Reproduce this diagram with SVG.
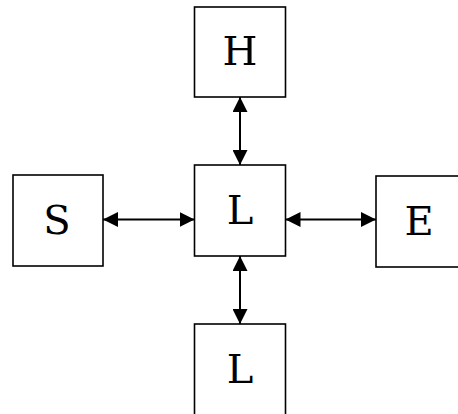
<svg xmlns="http://www.w3.org/2000/svg" width="458" height="414" viewBox="0 0 458 414">
<style>
.box{fill:#fff;stroke:#000;stroke-width:1.6}
.lbl{font-family:"DejaVu Serif","Liberation Serif",serif;font-size:40px;fill:#000;text-anchor:middle}
.edge{stroke:#000;stroke-width:2;fill:none;marker-start:url(#ah);marker-end:url(#ah)}
</style>
<defs>
<marker id="ah" viewBox="0 0 10 10" refX="10" refY="5" markerWidth="15" markerHeight="15" markerUnits="userSpaceOnUse" orient="auto-start-reverse">
<path d="M0,0 L10,5 L0,10 z" fill="#000"/>
</marker>
</defs>
<g id="connectors">
<line class="edge" x1="240" y1="97" x2="240" y2="165"/>
<line class="edge" x1="103" y1="219.5" x2="194.5" y2="219.5"/>
<line class="edge" x1="285.5" y1="219.5" x2="376" y2="219.5"/>
<line class="edge" x1="240" y1="256" x2="240" y2="324"/>
</g>
<g id="H"><rect class="box" x="194.5" y="7" width="91" height="90"/><text class="lbl" x="240" y="65">H</text></g>
<g id="L1"><rect class="box" x="194.5" y="165" width="91" height="91"/><text class="lbl" x="240" y="224">L</text></g>
<g id="S"><rect class="box" x="13" y="175" width="90" height="91"/><text class="lbl" x="57" y="234">S</text></g>
<g id="E"><rect class="box" x="376" y="176" width="91" height="91"/><text class="lbl" x="419" y="235">E</text></g>
<g id="L2"><rect class="box" x="194.5" y="324" width="91" height="91"/><text class="lbl" x="240" y="383">L</text></g>
</svg>
